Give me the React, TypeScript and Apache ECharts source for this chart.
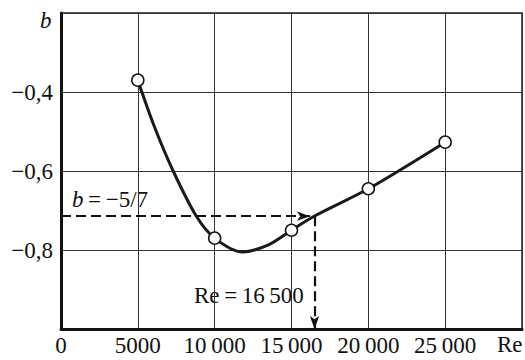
import React, { useEffect, useRef } from "react";
import * as echarts from "echarts";

// Measured points (open circles)
const reValues = [5000, 10000, 15000, 20000, 25000];
const bValues = [-0.37, -0.77, -0.75, -0.645, -0.527];

// Traced fitted curve
const curveRe = [5000, 6100, 7300, 8800, 10000, 11800, 13500, 15000, 16500, 20000, 25000];
const curveB = [-0.37, -0.49, -0.6, -0.714, -0.77, -0.805, -0.787, -0.75, -0.714, -0.645, -0.527];

// Construction lines
const bTarget = -5 / 7;
const reTarget = 16500;

const xTicks = [0, 5000, 10000, 15000, 20000, 25000];
const yTicks = [-0.4, -0.6, -0.8];

const FONT = "'Liberation Serif', 'Times New Roman', serif";
const FS = 23;

function fmtX(v: number): string {
  if (!xTicks.includes(v)) return "";
  if (v >= 10000) {
    const s = String(v);
    return s.slice(0, s.length - 3) + "\u2009" + s.slice(s.length - 3);
  }
  return String(v);
}

function fmtY(v: number): string {
  const r = Math.round(v * 10) / 10;
  if (!yTicks.some((t) => Math.abs(t - r) < 1e-9)) return "";
  return "\u2212" + Math.abs(r).toFixed(1).replace(".", ",");
}

export default function App() {
  const ref = useRef<HTMLDivElement>(null);
  useEffect(() => {
    if (!ref.current) return;
    const chart = echarts.init(ref.current, undefined, { renderer: "svg" });
    chart.setOption({
      animation: false,
      backgroundColor: "#fff",
      textStyle: { fontFamily: FONT },
      grid: {
        left: 61,
        top: 13,
        right: 2,
        bottom: 31,
        containLabel: false,
        show: true,
        borderColor: "#222",
        borderWidth: 1.5,
      },
      xAxis: {
        type: "value",
        min: 0,
        max: 30000,
        interval: 5000,
        axisLine: { show: true, lineStyle: { color: "#111", width: 3 } },
        axisTick: { show: false },
        splitLine: { show: true, lineStyle: { color: "#333", width: 1 } },
        axisLabel: {
          formatter: fmtX,
          margin: 5,
          color: "#111",
          fontFamily: FONT,
          fontSize: FS,
        },
      },
      yAxis: {
        type: "value",
        min: -1.0,
        max: -0.2,
        interval: 0.2,
        axisLine: { show: true, lineStyle: { color: "#111", width: 3 } },
        axisTick: { show: false },
        splitLine: { show: true, lineStyle: { color: "#333", width: 1 } },
        axisLabel: {
          formatter: fmtY,
          margin: 8,
          color: "#111",
          fontFamily: FONT,
          fontSize: FS,
        },
      },
      series: [
        {
          type: "line",
          data: curveRe.map((x, i) => [x, curveB[i]]),
          smooth: 0.3,
          showSymbol: false,
          lineStyle: { color: "#1a1a1a", width: 3 },
          z: 3,
          markLine: {
            silent: true,
            symbol: ["none", "arrow"],
            symbolSize: [7, 13],
            label: { show: false },
            lineStyle: { color: "#111", width: 2.2, type: [10, 5] },
            data: [
              [{ coord: [0, bTarget] }, { coord: [reTarget - 300, bTarget] }],
              [{ coord: [reTarget, bTarget] }, { coord: [reTarget, -1.0] }],
            ],
          },
        },
        {
          type: "scatter",
          data: reValues.map((x, i) => [x, bValues[i]]),
          symbol: "circle",
          symbolSize: 12,
          itemStyle: { color: "#ffffff", opacity: 1, borderColor: "#111", borderWidth: 1.5 },
          emphasis: { disabled: true },
          z: 5,
        },
      ],
      graphic: [
        {
          type: "text",
          left: 40,
          top: 9,
          style: {
            text: "b",
            font: `italic ${FS}px ${FONT}`,
            fill: "#111",
          },
        },
        {
          type: "text",
          left: 497,
          top: 333,
          style: {
            text: "Re",
            font: `${FS}px ${FONT}`,
            fill: "#111",
          },
        },
        {
          type: "text",
          left: 72,
          top: 188,
          style: {
            text: "{i|b}\u2009=\u2009\u22125/7",
            font: `${FS}px ${FONT}`,
            fill: "#111",
            rich: {
              i: { fontStyle: "italic", fontFamily: FONT, fontSize: FS },
            },
          },
        },
        {
          type: "text",
          left: 194,
          top: 284,
          style: {
            text: "Re\u2009=\u200916\u2009500",
            font: `${FS}px ${FONT}`,
            fill: "#111",
          },
        },
      ],
    });
    return () => chart.dispose();
  }, []);
  return <div ref={ref} style={{ width: 525, height: 360, position: "absolute", left: 0, top: 0 }} />;
}
